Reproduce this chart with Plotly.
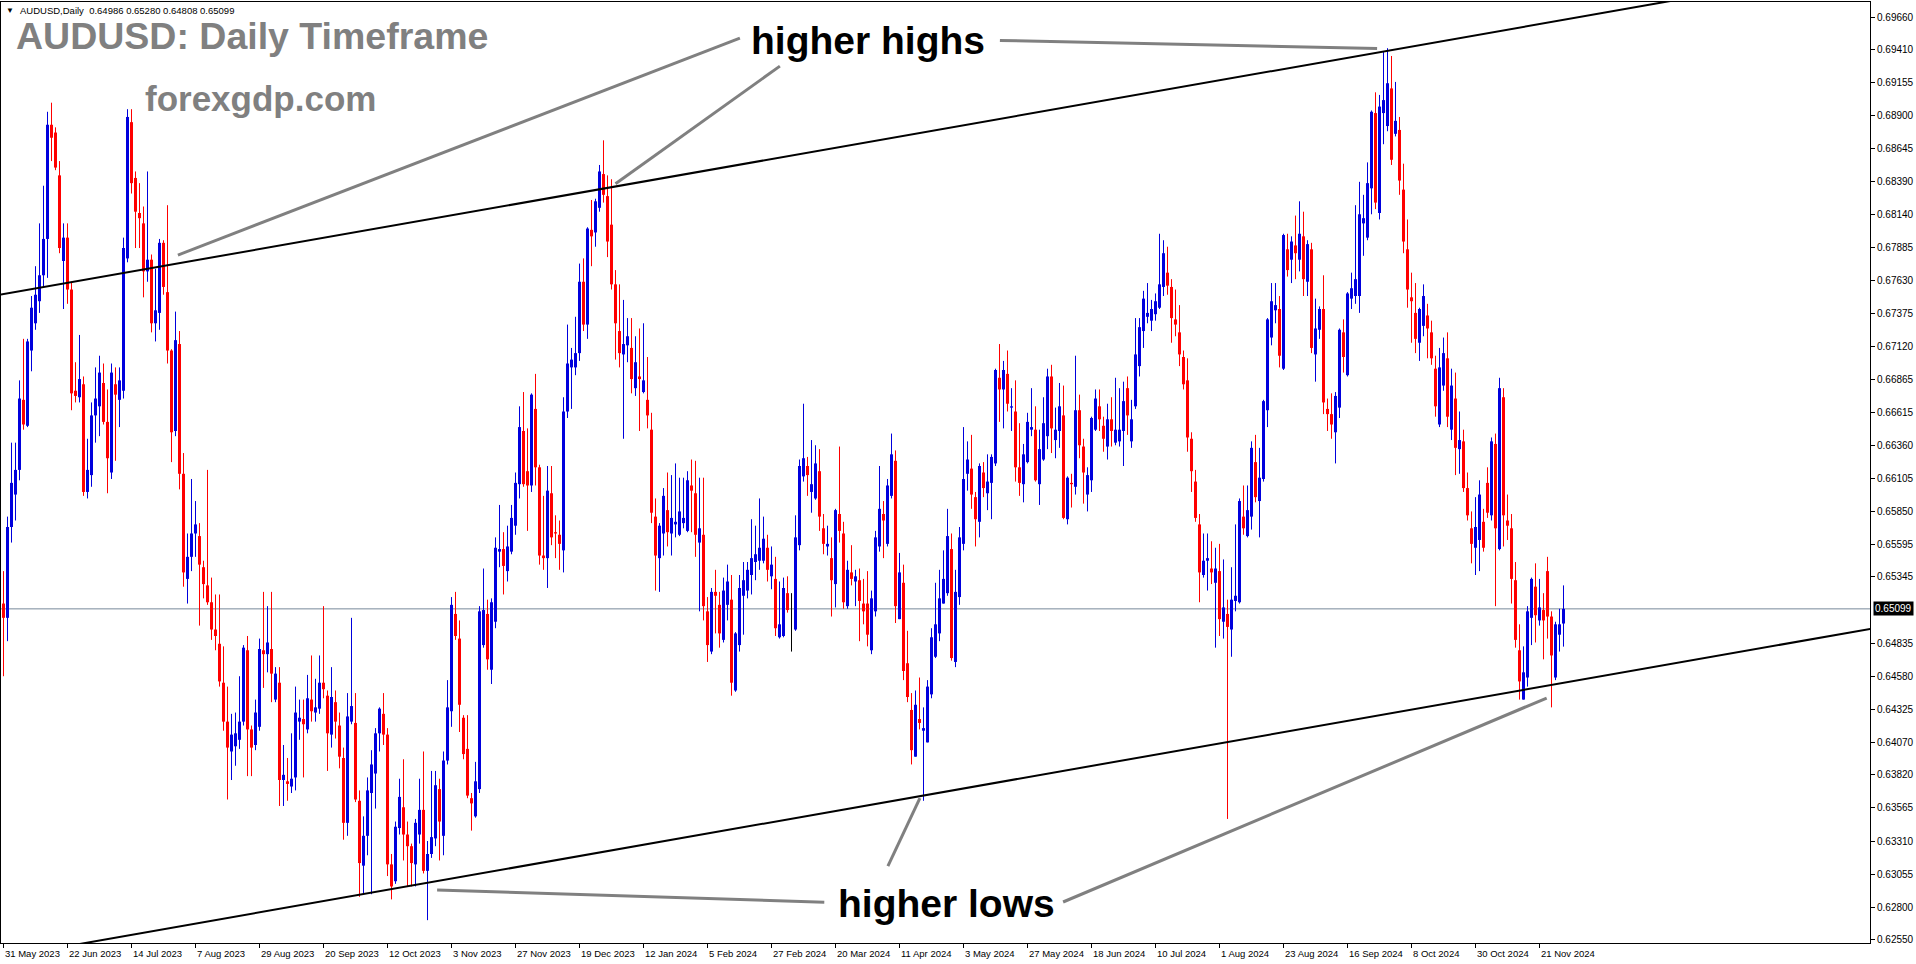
import plotly.graph_objects as go

# ---------------- data ----------------
tick_labels = ["31 May 2023", "22 Jun 2023", "14 Jul 2023", "7 Aug 2023", "29 Aug 2023",
               "20 Sep 2023", "12 Oct 2023", "3 Nov 2023", "27 Nov 2023", "19 Dec 2023",
               "12 Jan 2024", "5 Feb 2024", "27 Feb 2024", "20 Mar 2024", "11 Apr 2024",
               "3 May 2024", "27 May 2024", "18 Jun 2024", "10 Jul 2024", "1 Aug 2024",
               "23 Aug 2024", "16 Sep 2024", "8 Oct 2024", "30 Oct 2024", "21 Nov 2024"]
bars_per_label = 16

price_ticks = [0.69660, 0.69410, 0.69155, 0.68900, 0.68645, 0.68390, 0.68140, 0.67885,
               0.67630, 0.67375, 0.67120, 0.66865, 0.66615, 0.66360, 0.66105, 0.65850,
               0.65595, 0.65345, 0.64835, 0.64580, 0.64325, 0.64070, 0.63820, 0.63565,
               0.63310, 0.63055, 0.62800, 0.62550]
last_price = 0.65099

opens = [
 .6514,.6503,.6573,.6598,.6617,.6671,.6651,.6709,.6730,.6747,
 .6767,.6795,.6883,.6877,.6844,.6778,.6796,.6756,.6678,.6673,
 .6683,.6600,.6613,.6659,.6666,.6684,.6654,.6615,.6683,.6671,
 .6678,.6780,.6885,.6842,.6815,.6807,.6770,.6779,.6730,.6738,
 .6792,.6754,.6709,.6647,.6714,.6614,.6533,.6550,.6568,.6566,
 .6542,.6528,.6515,.6494,.6483,.6453,.6423,.6400,.6404,.6409,
 .6423,.6478,.6417,.6405,.6419,.6478,.6475,.6479,.6440,.6453,
 .6378,.6377,.6373,.6380,.6423,.6425,.6417,.6440,.6430,.6433,
 .6453,.6443,.6413,.6438,.6420,.6395,.6345,.6423,.6422,.6362,
 .6312,.6335,.6368,.6383,.6414,.6429,.6413,.6313,.6300,.6341,
 .6357,.6336,.6327,.6313,.6336,.6355,.6308,.6321,.6333,.6371,
 .6335,.6393,.6431,.6506,.6487,.6426,.6402,.6364,.6350,.6371,
 .6482,.6506,.6463,.6500,.6554,.6556,.6539,.6554,.6574,.6606,
 .6647,.6616,.6605,.6664,.6619,.6551,.6549,.6599,.6569,.6567,
 .6555,.6662,.6696,.6696,.6707,.6762,.6729,.6802,.6800,.6819,
 .6845,.6828,.6806,.6760,.6724,.6706,.6713,.6711,.6680,.6689,
 .6677,.6671,.6648,.6581,.6549,.6568,.6586,.6568,.6575,.6567,
 .6576,.6570,.6605,.6599,.6561,.6567,.6508,.6477,.6523,.6513,
 .6486,.6513,.6517,.6447,.6482,.6520,.6524,.6536,.6546,.6547,
 .6547,.6557,.6535,.6533,.6488,.6489,.6522,.6505,.6494,.6559,
 .6612,.6620,.6600,.6595,.6616,.6572,.6558,.6549,.6529,.6583,
 .6568,.6512,.6538,.6531,.6532,.6514,.6514,.6478,.6508,.6558,
 .6583,.6560,.6597,.6624,.6502,.6530,.6468,.6432,.6396,.6425,
 .6416,.6407,.6444,.6473,.6491,.6514,.6522,.6556,.6469,.6519,
 .6560,.6614,.6618,.6596,.6577,.6615,.6599,.6607,.6622,.6688,
 .6679,.6691,.6665,.6662,.6619,.6606,.6623,.6648,.6648,.6606,
 .6625,.6643,.6689,.6640,.6647,.6659,.6579,.6607,.6604,.6663,
 .6635,.6598,.6609,.6648,.6666,.6651,.6635,.6656,.6638,.6639,
 .6647,.6680,.6639,.6666,.6697,.6724,.6735,.6732,.6737,.6742,
 .6758,.6769,.6758,.6733,.6723,.6704,.6686,.6641,.6608,.6575,
 .6536,.6547,.6541,.6530,.6539,.6500,.6506,.6494,.6516,.6515,
 .6581,.6566,.6581,.6623,.6593,.6610,.6663,.6719,.6740,.6741,
 .6695,.6787,.6779,.6790,.6779,.6797,.6762,.6787,.6706,.6725,
 .6741,.6664,.6660,.6646,.6665,.6723,.6690,.6749,.6751,.6751,
 .6807,.6796,.6834,.6892,.6815,.6892,.6882,.6911,.6876,.6879,
 .6833,.6787,.6750,.6738,.6715,.6728,.6736,.6723,.6695,.6652,
 .6682,.6703,.6648,.6672,.6633,.6639,.6603,.6572,.6557,.6563,
 .6577,.6607,.6582,.6637,.6556,.6673,.6578,.6572,.6532,.6478,
 .6440,.6457,.6503,.6527,.6501,.6509,.6539,.6504,.6457,.6490,
 .64986]

highs = [
 .6539,.6581,.6638,.6638,.6686,.6718,.6718,.6751,.6774,.6807,
 .6836,.6893,.6900,.6881,.6855,.6807,.6807,.6762,.6700,.6721,
 .6689,.6641,.6669,.6696,.6705,.6699,.6679,.6699,.6696,.6696,
 .6796,.6895,.6895,.6847,.6838,.6820,.6847,.6783,.6772,.6795,
 .6794,.6821,.6710,.6739,.6724,.6630,.6568,.6610,.6593,.6576,
 .6547,.6617,.6534,.6521,.6521,.6481,.6450,.6429,.6430,.6458,
 .6482,.6489,.6420,.6440,.6487,.6523,.6512,.6523,.6465,.6465,
 .6405,.6395,.6414,.6450,.6440,.6440,.6459,.6474,.6456,.6474,
 .6512,.6447,.6465,.6447,.6430,.6403,.6445,.6503,.6445,.6370,
 .6350,.6380,.6401,.6418,.6434,.6445,.6418,.6321,.6346,.6379,
 .6394,.6346,.6329,.6348,.6379,.6400,.6331,.6385,.6385,.6379,
 .6400,.6455,.6519,.6523,.6501,.6428,.6428,.6368,.6392,.6512,
 .6541,.6517,.6518,.6565,.6590,.6569,.6574,.6590,.6615,.6666,
 .6677,.6649,.6676,.6691,.6621,.6597,.6620,.6620,.6582,.6578,
 .6673,.6729,.6711,.6735,.6776,.6780,.6804,.6825,.6826,.6852,
 .6871,.6844,.6841,.6771,.6760,.6748,.6734,.6734,.6720,.6726,
 .6730,.6704,.6661,.6595,.6576,.6603,.6615,.6613,.6622,.6611,
 .6611,.6616,.6625,.6624,.6611,.6611,.6519,.6526,.6540,.6523,
 .6534,.6544,.6536,.6492,.6536,.6546,.6546,.6579,.6574,.6595,
 .6581,.6567,.6558,.6550,.6531,.6534,.6535,.6522,.6582,.6625,
 .6668,.6627,.6640,.6636,.6633,.6583,.6574,.6565,.6587,.6635,
 .6577,.6547,.6559,.6540,.6541,.6533,.6539,.6524,.6570,.6620,
 .6593,.6610,.6645,.6632,.6553,.6544,.6493,.6445,.6447,.6457,
 .6434,.6455,.6495,.6530,.6540,.6555,.6587,.6568,.6540,.6573,
 .6650,.6639,.6644,.6600,.6622,.6623,.6629,.6629,.6695,.6714,
 .6701,.6709,.6680,.6686,.6653,.6637,.6661,.6680,.6666,.6648,
 .6673,.6695,.6698,.6665,.6684,.6682,.6612,.6614,.6705,.6675,
 .6641,.6619,.6658,.6679,.6679,.6658,.6668,.6673,.6688,.6680,
 .6685,.6689,.6671,.6734,.6734,.6755,.6761,.6748,.6753,.6799,
 .6794,.6789,.6764,.6756,.6744,.6709,.6703,.6646,.6617,.6583,
 .6568,.6568,.6562,.6557,.6560,.6548,.6517,.6542,.6575,.6595,
 .6605,.6605,.6639,.6644,.6634,.6671,.6734,.6761,.6761,.6751,
 .6799,.6799,.6797,.6813,.6824,.6816,.6794,.6792,.6749,.6743,
 .6767,.6672,.6676,.6677,.6726,.6733,.6754,.6769,.6821,.6839,
 .6829,.6854,.6894,.6908,.6906,.6939,.6942,.6936,.6916,.6889,
 .6853,.6810,.6769,.6761,.6742,.6760,.6745,.6732,.6705,.6711,
 .6719,.6723,.6695,.6692,.6662,.6648,.6615,.6585,.6596,.6609,
 .6587,.6619,.6642,.6645,.6688,.6680,.6598,.6583,.6546,.6498,
 .6481,.6512,.6534,.6545,.6533,.6522,.6550,.6508,.6500,.6510,
 .65280]

lows = [
 .6458,.6485,.6561,.6578,.6609,.6648,.6650,.6693,.6725,.6738,
 .6758,.6765,.6855,.6848,.6784,.6741,.6745,.6663,.6669,.6669,
 .6597,.6595,.6604,.6638,.6643,.6652,.6599,.6610,.6624,.6650,
 .6672,.6777,.6830,.6788,.6788,.6750,.6762,.6723,.6716,.6725,
 .6752,.6699,.6623,.6643,.6602,.6527,.6514,.6539,.6550,.6497,
 .6518,.6513,.6486,.6478,.6450,.6416,.6363,.6378,.6389,.6402,
 .6420,.6381,.6381,.6401,.6416,.6449,.6461,.6438,.6438,.6358,
 .6358,.6362,.6368,.6370,.6409,.6380,.6414,.6423,.6423,.6429,
 .6441,.6385,.6403,.6410,.6387,.6332,.6335,.6421,.6361,.6288,
 .6290,.6320,.6290,.6356,.6400,.6405,.6304,.6286,.6298,.6336,
 .6316,.6296,.6296,.6296,.6329,.6306,.6270,.6318,.6327,.6316,
 .6320,.6390,.6419,.6486,.6415,.6394,.6364,.6339,.6349,.6368,
 .6480,.6463,.6452,.6495,.6542,.6521,.6531,.6552,.6567,.6595,
 .6604,.6570,.6600,.6605,.6544,.6540,.6526,.6559,.6549,.6540,
 .6538,.6657,.6664,.6690,.6701,.6724,.6718,.6774,.6789,.6816,
 .6823,.6781,.6756,.6702,.6696,.6641,.6700,.6676,.6674,.6647,
 .6676,.6649,.6576,.6524,.6523,.6551,.6558,.6551,.6565,.6566,
 .6572,.6569,.6569,.6550,.6508,.6501,.6469,.6475,.6491,.6480,
 .6484,.6501,.6443,.6446,.6477,.6490,.6518,.6521,.6532,.6540,
 .6545,.6531,.6525,.6489,.6487,.6488,.6507,.6477,.6493,.6555,
 .6608,.6597,.6584,.6594,.6570,.6552,.6551,.6504,.6511,.6561,
 .6510,.6510,.6528,.6512,.6485,.6498,.6481,.6475,.6504,.6554,
 .6549,.6558,.6595,.6499,.6502,.6455,.6438,.6390,.6396,.6417,
 .6362,.6407,.6441,.6472,.6485,.6514,.6520,.6470,.6465,.6513,
 .6555,.6601,.6587,.6558,.6565,.6596,.6586,.6579,.6620,.6654,
 .6649,.6662,.6647,.6608,.6597,.6592,.6622,.6643,.6608,.6590,
 .6624,.6633,.6630,.6626,.6634,.6579,.6575,.6588,.6598,.6626,
 .6591,.6585,.6600,.6647,.6647,.6631,.6625,.6635,.6636,.6635,
 .6620,.6644,.6634,.6664,.6689,.6711,.6730,.6724,.6732,.6741,
 .6751,.6752,.6715,.6720,.6697,.6679,.6631,.6600,.6577,.6515,
 .6534,.6524,.6529,.6480,.6489,.6487,.6348,.6473,.6508,.6514,
 .6567,.6565,.6571,.6592,.6565,.6608,.6650,.6713,.6730,.6696,
 .6694,.6766,.6761,.6764,.6770,.6751,.6751,.6707,.6685,.6718,
 .6660,.6647,.6641,.6622,.6657,.6692,.6689,.6741,.6745,.6738,
 .6782,.6794,.6814,.6818,.6810,.6868,.6878,.6852,.6874,.6829,
 .6784,.6742,.6715,.6707,.6701,.6720,.6703,.6698,.6658,.6650,
 .6678,.6650,.6640,.6613,.6614,.6600,.6578,.6545,.6536,.6539,
 .6554,.6580,.6578,.6512,.6555,.6558,.6563,.6514,.6480,.6440,
 .6440,.6450,.6482,.6484,.6497,.6471,.6487,.6434,.6455,.6477,
 .64808]

closes = [
 .6503,.6573,.6607,.6617,.6672,.6652,.6716,.6742,.6752,.6767,
 .6795,.6883,.6873,.6850,.6788,.6796,.6756,.6676,.6674,.6687,
 .6600,.6617,.6659,.6672,.6692,.6654,.6626,.6692,.6675,.6686,
 .6788,.6889,.6838,.6816,.6811,.6770,.6779,.6730,.6740,.6792,
 .6758,.6709,.6646,.6717,.6614,.6538,.6550,.6568,.6575,.6544,
 .6529,.6515,.6494,.6489,.6454,.6423,.6403,.6413,.6414,.6423,
 .6480,.6417,.6403,.6430,.6479,.6475,.6484,.6460,.6460,.6378,
 .6382,.6375,.6379,.6430,.6426,.6421,.6441,.6431,.6434,.6453,
 .6448,.6414,.6442,.6423,.6396,.6345,.6427,.6435,.6363,.6314,
 .6335,.6370,.6390,.6414,.6433,.6413,.6313,.6296,.6342,.6365,
 .6336,.6327,.6314,.6345,.6355,.6308,.6321,.6334,.6374,.6346,
 .6393,.6434,.6513,.6489,.6436,.6398,.6366,.6360,.6377,.6508,
 .6509,.6471,.6515,.6557,.6556,.6543,.6558,.6580,.6607,.6650,
 .6606,.6605,.6675,.6619,.6551,.6549,.6601,.6565,.6568,.6560,
 .6662,.6699,.6702,.6707,.6762,.6729,.6803,.6797,.6824,.6847,
 .6829,.6793,.6760,.6730,.6707,.6714,.6720,.6687,.6700,.6687,
 .6686,.6659,.6584,.6551,.6574,.6597,.6569,.6580,.6577,.6585,
 .6580,.6609,.6601,.6567,.6572,.6512,.6482,.6523,.6520,.6491,
 .6524,.6531,.6453,.6491,.6526,.6532,.6540,.6549,.6552,.6557,
 .6564,.6540,.6544,.6495,.6498,.6526,.6509,.6505,.6565,.6620,
 .6626,.6613,.6606,.6622,.6581,.6560,.6560,.6532,.6586,.6570,
 .6515,.6540,.6533,.6535,.6516,.6508,.6490,.6518,.6565,.6587,
 .6578,.6605,.6629,.6512,.6538,.6462,.6442,.6401,.6436,.6422,
 .6418,.6450,.6488,.6498,.6518,.6533,.6566,.6472,.6523,.6565,
 .6610,.6625,.6598,.6579,.6620,.6603,.6608,.6627,.6694,.6679,
 .6694,.6668,.6666,.6619,.6607,.6629,.6654,.6650,.6609,.6633,
 .6653,.6689,.6649,.6648,.6666,.6580,.6611,.6606,.6663,.6636,
 .6615,.6613,.6657,.6672,.6656,.6641,.6656,.6647,.6648,.6648,
 .6670,.6659,.6656,.6706,.6727,.6749,.6738,.6741,.6747,.6760,
 .6784,.6759,.6734,.6729,.6706,.6683,.6642,.6616,.6580,.6538,
 .6547,.6549,.6538,.6541,.6502,.6511,.6496,.6517,.6520,.6593,
 .6572,.6586,.6634,.6596,.6611,.6670,.6733,.6747,.6744,.6705,
 .6798,.6771,.6793,.6784,.6799,.6764,.6791,.6711,.6726,.6741,
 .6669,.6660,.6652,.6674,.6725,.6704,.6753,.6757,.6764,.6814,
 .6811,.6838,.6893,.6823,.6897,.6902,.6915,.6856,.6886,.6840,
 .6793,.6756,.6747,.6718,.6741,.6751,.6726,.6703,.6666,.6696,
 .6707,.6658,.6682,.6634,.6640,.6603,.6582,.6560,.6573,.6598,
 .6557,.6584,.6639,.6572,.6680,.6582,.6574,.6533,.6486,.6454,
 .6461,.6508,.6533,.6505,.6511,.6501,.6504,.6474,.6498,.6498,
 .65099]

# trend channel anchors: (bar index, price)
upper_line = [(0, 0.67525), (400, 0.69693)]
lower_line = [(0, 0.62413), (400, 0.64583)]
# annotation pointer lines: (bar index, price) pairs
pointer_lines = [
    [(43.6, 0.67826), (184.1, 0.69498)],
    [(153.0, 0.68375), (194.1, 0.69282)],
    [(249.1, 0.69480), (343.4, 0.69418)],
    [(108.4, 0.62932), (205.2, 0.62839)],
    [(221.1, 0.63117), (229.1, 0.63641)],
    [(264.9, 0.62840), (385.8, 0.64412)],
]

# ---------------- figure ----------------
n = min(len(opens), len(highs), len(lows), len(closes))
BLUE = "#0000DD"
RED = "#FF0000"

def segments(ids, a, b):
    xs, ys = [], []
    for i in ids:
        xs += [i, i, None]
        ys += [a[i], b[i], None]
    return xs, ys

up = [i for i in range(n) if closes[i] > opens[i]]
dn = [i for i in range(n) if closes[i] < opens[i]]
eq = [i for i in range(n) if closes[i] == opens[i]]

fig = go.Figure()
for ids, col in ((up, BLUE), (dn, RED), (eq, "#000000")):
    xs, ys = segments(ids, lows, highs)
    fig.add_trace(go.Scatter(x=xs, y=ys, mode="lines", line=dict(color=col, width=1),
                             hoverinfo="skip", showlegend=False))
    xs, ys = segments(ids, opens, closes)
    fig.add_trace(go.Scatter(x=xs, y=ys, mode="lines", line=dict(color=col, width=3),
                             hoverinfo="skip", showlegend=False))

L, R, T, B = 1, 46, 2, 21
W, H = 1916, 964
pw, ph = W - L - R, H - T - B

def px(x):
    return (x - L) / pw

def py(y):
    return (H - B - y) / ph

y_lo, y_hi = 0.62524, 0.69776
x_lo, x_hi = -0.625, 466.625

shapes = []
shapes.append(dict(type="line", xref="paper", yref="y", x0=0, x1=1, y0=last_price, y1=last_price,
                   line=dict(color="#778899", width=1), layer="below"))

def extend(p0, p1):
    (a0, b0), (a1, b1) = p0, p1
    s = (b1 - b0) / (a1 - a0)
    return (x_lo - 5, b0 + s * (x_lo - 5 - a0)), (x_hi + 5, b0 + s * (x_hi + 5 - a0))

for line in (upper_line, lower_line):
    (xa, ya), (xb, yb) = extend(*line)
    shapes.append(dict(type="line", xref="x", yref="y", x0=xa, y0=ya, x1=xb, y1=yb,
                       line=dict(color="black", width=2)))
for (xa, ya), (xb, yb) in pointer_lines:
    shapes.append(dict(type="line", xref="x", yref="y", x0=xa, y0=ya, x1=xb, y1=yb,
                       line=dict(color="#808080", width=3)))

annotations = []
FONT = "Liberation Sans, Arial, sans-serif"
for k, lab in enumerate(tick_labels):
    annotations.append(dict(x=k * bars_per_label, xref="x", y=0, yref="paper", text=lab,
                            showarrow=False, xanchor="left", yanchor="top", xshift=-1, yshift=-3,
                            font=dict(family=FONT, size=9.5, color="black")))
annotations.append(dict(x=1, xref="paper", y=last_price, yref="y", text="0.65099", showarrow=False,
                        xanchor="left", yanchor="middle", xshift=3, bgcolor="black", borderpad=1,
                        font=dict(family=FONT, size=10, color="white")))
annotations.append(dict(x=px(10), xref="paper", y=py(11), yref="paper", text="▼", showarrow=False,
                        xanchor="center", yanchor="middle", font=dict(family=FONT, size=8, color="black")))
annotations.append(dict(x=px(18), xref="paper", y=py(11), yref="paper",
                        text="AUDUSD,Daily  0.64986 0.65280 0.64808 0.65099", showarrow=False,
                        xanchor="left", yanchor="middle", font=dict(family=FONT, size=9.5, color="black")))
annotations.append(dict(x=px(14), xref="paper", y=py(36), yref="paper", text="AUDUSD: Daily Timeframe",
                        showarrow=False, xanchor="left", yanchor="middle",
                        font=dict(family=FONT, size=37.5, color="#808080", weight="bold")))
annotations.append(dict(x=px(143), xref="paper", y=py(99), yref="paper", text="forexgdp.com",
                        showarrow=False, xanchor="left", yanchor="middle",
                        font=dict(family=FONT, size=35, color="#808080", weight="bold")))
annotations.append(dict(x=px(868), xref="paper", y=py(40), yref="paper", text="higher highs",
                        showarrow=False, xanchor="center", yanchor="middle",
                        font=dict(family=FONT, size=39, color="black", weight="bold")))
annotations.append(dict(x=px(946), xref="paper", y=py(903), yref="paper", text="higher lows",
                        showarrow=False, xanchor="center", yanchor="middle",
                        font=dict(family=FONT, size=39, color="black", weight="bold")))

fig.update_layout(
    width=W, height=H, margin=dict(l=L, r=R, t=T, b=B),
    paper_bgcolor="white", plot_bgcolor="white", showlegend=False,
    shapes=shapes, annotations=annotations, hovermode=False,
    xaxis=dict(range=[x_lo, x_hi], showgrid=False, zeroline=False, showline=True, linecolor="black",
               linewidth=1, mirror=True, tickmode="array",
               tickvals=[k * bars_per_label for k in range(len(tick_labels))],
               ticks="outside", ticklen=4, tickcolor="black", showticklabels=False, fixedrange=True),
    yaxis=dict(range=[y_lo, y_hi], side="right", showgrid=False, zeroline=False, showline=True,
               linecolor="black", linewidth=1, mirror=True, tickmode="array", tickvals=price_ticks,
               ticktext=[f"{v:.5f}" for v in price_ticks], ticks="outside", ticklen=4,
               tickcolor="black", tickfont=dict(family=FONT, size=10, color="black"), fixedrange=True),
)

fig.write_html("out.html", config={"displayModeBar": False},
               post_script="document.body.style.margin='0px';document.body.style.overflow='hidden';")
